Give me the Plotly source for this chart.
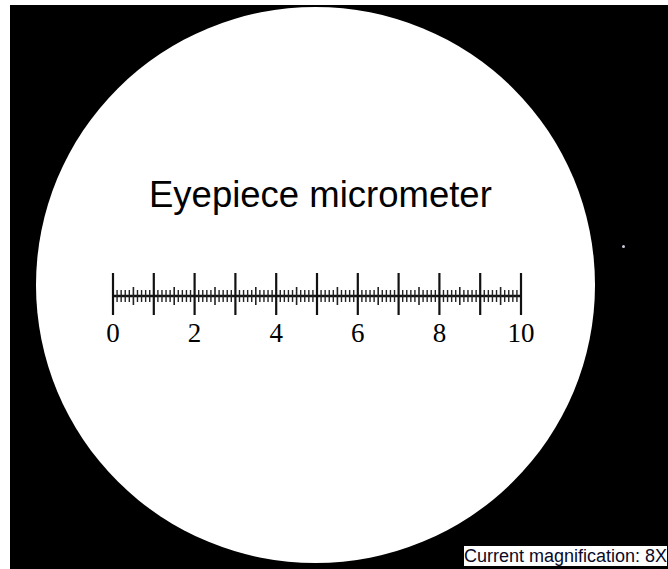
import plotly.graph_objects as go

# ---- data ----
major_values = list(range(0, 11))          # major division marks (0..10)
label_values = [0, 2, 4, 6, 8, 10]          # labelled divisions
label_texts = ["0", "2", "4", "6", "8", "10"]
subdivisions = 10                            # minor divisions per unit
title_text = "Eyepiece micrometer"
magnification_text = "Current magnification: 8X"

W, H = 668, 569
# pixel placement of scale (style)
px0, px10 = 113, 521
line_y = 296
units_per_px = (major_values[-1] - major_values[0]) / (px10 - px0)
x2_range = [major_values[0] - px0 * units_per_px, major_values[0] + (W - px0) * units_per_px]

fig = go.Figure()

# minor / half ticks
minor_x, minor_y, half_x, half_y = [], [], [], []
for u in major_values[:-1]:
    for k in range(1, subdivisions):
        v = u + k / subdivisions
        if k == subdivisions // 2:
            half_x += [v, v, None]
            half_y += [287, 305, None]
        else:
            minor_x += [v, v, None]
            minor_y += [290, 302, None]

maj_x, maj_y = [], []
for v in major_values:
    maj_x += [v, v, None]
    maj_y += [273, 315, None]

common = dict(xaxis="x2", yaxis="y", mode="lines", hoverinfo="skip", showlegend=False)
fig.add_trace(go.Scatter(x=[major_values[0], major_values[-1]], y=[line_y, line_y],
                         line=dict(color="#111", width=2.5), **common))
fig.add_trace(go.Scatter(x=minor_x, y=minor_y, line=dict(color="#222", width=1.4), **common))
fig.add_trace(go.Scatter(x=half_x, y=half_y, line=dict(color="#222", width=1.6), **common))
fig.add_trace(go.Scatter(x=maj_x, y=maj_y, line=dict(color="#111", width=2.2), **common))

fig.add_trace(go.Scatter(x=label_values, y=[335] * len(label_values), text=label_texts,
                         mode="text", textposition="middle center",
                         textfont=dict(family="Liberation Serif", size=27, color="#000"),
                         xaxis="x2", yaxis="y", hoverinfo="skip", showlegend=False))

# background: black field and white circular field of view
shapes = [
    dict(type="rect", xref="x", yref="y", x0=10, y0=5, x1=W, y1=H,
         fillcolor="black", line=dict(width=0), layer="below"),
    dict(type="circle", xref="x", yref="y", x0=36, y0=7, x1=595, y1=563,
         fillcolor="white", line=dict(width=0), layer="below"),
    dict(type="circle", xref="x", yref="y", x0=622, y0=245, x1=625, y1=248,
         fillcolor="#c8c8d8", line=dict(width=0), layer="below"),
]

annotations = [
    dict(text=title_text, x=320, y=194, xref="x", yref="y", showarrow=False,
         xanchor="center", yanchor="middle",
         font=dict(family="Liberation Sans", size=36.5, color="#000")),
    dict(text=magnification_text, x=1, y=0.004, xref="paper", yref="paper", showarrow=False,
         xanchor="right", yanchor="bottom", bgcolor="white", bordercolor="black",
         borderwidth=1, borderpad=0,
         font=dict(family="Liberation Sans", size=18, color="#0a0a28")),
]

fig.update_layout(
    width=W, height=H, margin=dict(l=0, r=0, t=0, b=0),
    paper_bgcolor="white", plot_bgcolor="white",
    xaxis=dict(range=[0, W], visible=False, fixedrange=True),
    xaxis2=dict(range=x2_range, overlaying="x", visible=False, fixedrange=True),
    yaxis=dict(range=[H, 0], visible=False, fixedrange=True),
    shapes=shapes, annotations=annotations, showlegend=False,
)

fig.write_html("out.html", config={"displayModeBar": False},
               post_script="document.body.style.margin='0';document.body.style.overflow='hidden';")
